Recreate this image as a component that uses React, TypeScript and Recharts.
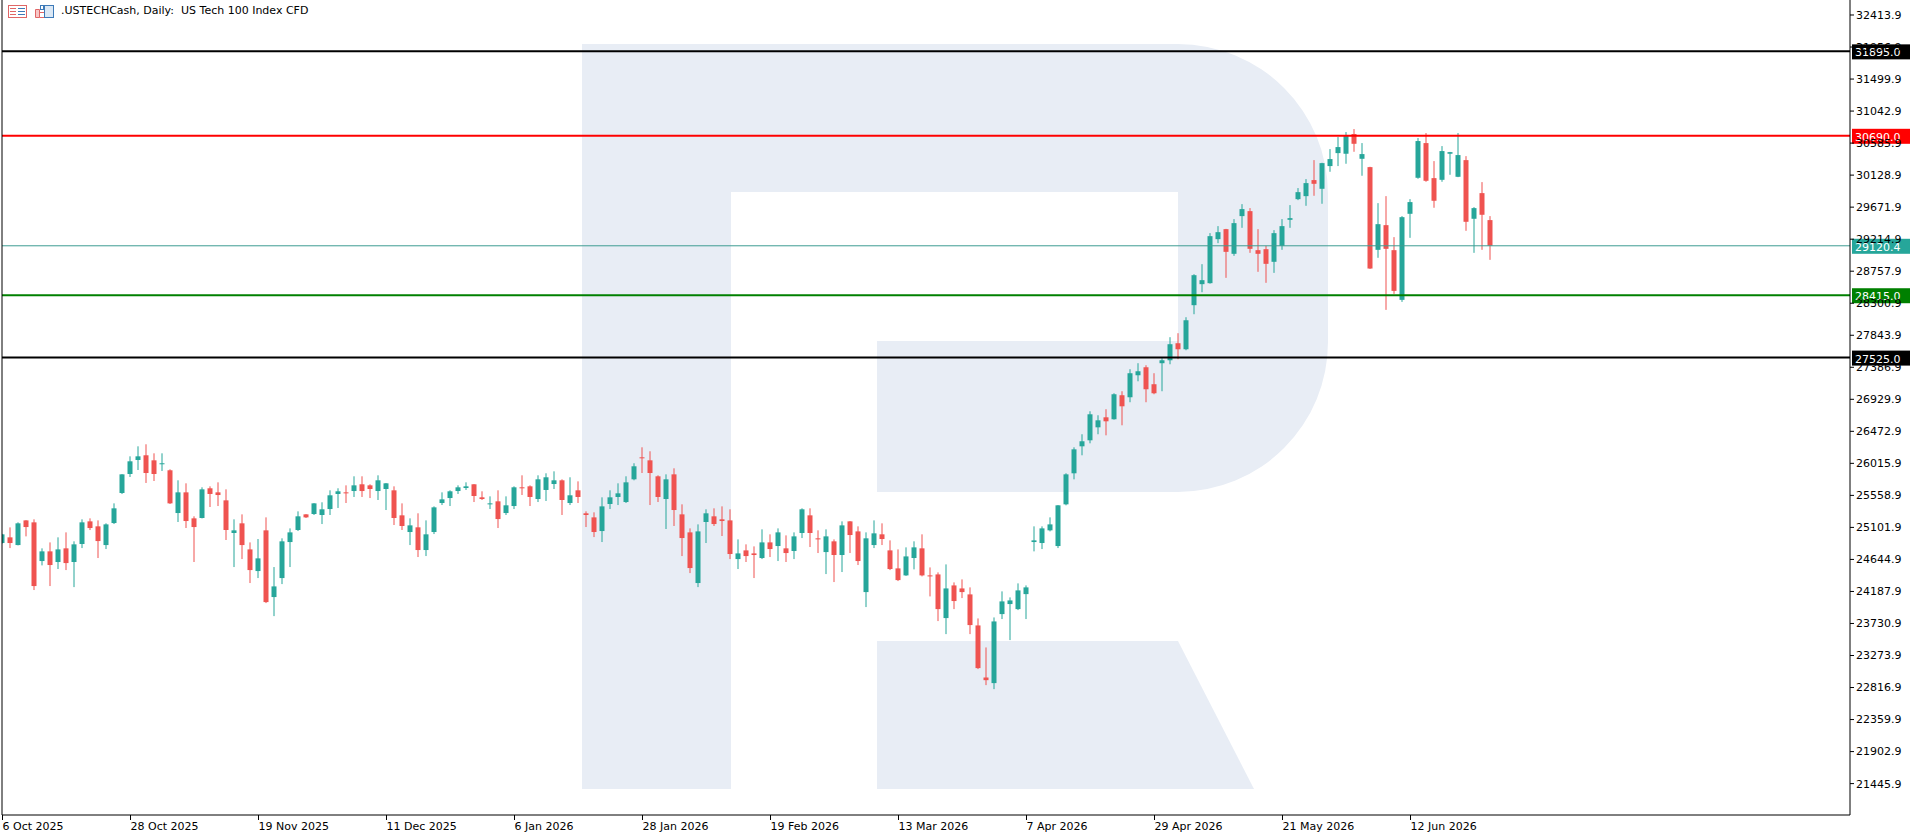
import { Bar, ComposedChart, ReferenceLine, XAxis, YAxis } from "recharts";

// Daily candles, 6 Oct 2025 .. late Jun 2026
const opens = [
  24879, 24960, 24850, 25202, 25174, 24622, 24760, 24608, 24803, 24608,
  24865, 25188, 25117, 24850, 25164, 25593, 25864, 26064, 26131, 26059,
  26007, 25917, 25307, 25602, 25231, 25236, 25660, 25602, 25488, 25022,
  25160, 24788, 24479, 25060, 24108, 24379, 24893, 25065, 25288, 25293,
  25279, 25364, 25579, 25602, 25621, 25717, 25702, 25621, 25650, 25631,
  25274, 25036, 25103, 24779, 25036, 25450, 25521, 25621, 25664, 25717,
  25531, 25440, 25474, 25307, 25407, 25674, 25688, 25507, 25636, 25721,
  25774, 25450, 25631, 25303, 25245, 25050, 25436, 25536, 25464, 25788,
  26102, 26059, 25831, 25507, 25859, 25288, 25031, 24308, 25179, 25260,
  25217, 25202, 24650, 24774, 24731, 24665, 24888, 24836, 24803, 24765,
  25022, 25274, 24946, 24750, 24903, 24708, 25188, 25045, 24179, 24850,
  25003, 24774, 24517, 24417, 24665, 24803, 24417, 24431, 23808, 24274,
  24231, 24146, 23703, 22960, 22880, 23865, 24008, 23936, 24150, 24893,
  24879, 25060, 24836, 25431, 25874, 26259, 26345, 26530, 26673, 26645,
  26988, 26959, 27273, 27387, 27145, 27445, 27487, 27730, 27644, 28273,
  28573, 28587, 29215, 29358, 29006, 29544, 29615, 29058, 29072, 28892,
  29120, 29491, 29786, 29829, 30058, 29934, 30258, 30443, 30434, 30715,
  30362, 30243, 29063, 29415, 29058, 28349, 29577, 30091, 30586, 30086,
  30062, 30434, 30105, 30343, 29506, 29872, 29487,
];
const highs = [
  25010, 25102, 25174, 25206, 25217, 24803, 24888, 24960, 25031, 24903,
  25217, 25231, 25202, 25160, 25445, 25862, 26116, 26259, 26288, 26159,
  26159, 25931, 25774, 25731, 25260, 25674, 25688, 25745, 25645, 25217,
  25288, 24888, 24936, 25245, 24536, 24946, 25088, 25331, 25292, 25448,
  25460, 25631, 25660, 25702, 25831, 25831, 25717, 25845, 25735, 25688,
  25445, 25231, 25303, 25202, 25402, 25602, 25631, 25702, 25745, 25720,
  25617, 25545, 25631, 25545, 25688, 25845, 25702, 25845, 25874, 25902,
  25788, 25817, 25759, 25331, 25317, 25531, 25631, 25731, 25831, 26017,
  26245, 26188, 25845, 25859, 25945, 25431, 25088, 25145, 25360, 25374,
  25402, 25360, 24931, 24860, 24831, 25074, 25003, 25088, 24988, 25031,
  25374, 25374, 25060, 25074, 24931, 25188, 25192, 25117, 25031, 25202,
  25160, 24917, 24788, 24817, 24903, 25003, 24531, 24460, 24574, 24317,
  24360, 24246, 23803, 23389, 23817, 24189, 24103, 24303, 24274, 25117,
  25117, 25245, 25420, 25874, 26245, 26431, 26759, 26702, 26788, 27016,
  27045, 27359, 27445, 27416, 27302, 27516, 27816, 27873, 28101, 28715,
  28858, 29301, 29401, 29362, 29501, 29715, 29658, 29358, 29120, 29344,
  29501, 29701, 29944, 30072, 30343, 30305, 30500, 30672, 30743, 30786,
  30586, 30248, 29729, 29829, 29244, 29544, 29786, 30658, 30729, 30329,
  30543, 30460, 30729, 30400, 29672, 30029, 29544,
];
const lows = [
  24870, 24807, 24845, 24974, 24208, 24560, 24265, 24508, 24493, 24250,
  24807, 25064, 24665, 24793, 25150, 25578, 25821, 25921, 25736, 25764,
  25907, 25436, 25179, 25093, 24608, 25230, 25393, 25407, 24922, 24536,
  24650, 24308, 24379, 24022, 23836, 24293, 24536, 25050, 25236, 25279,
  25150, 25279, 25379, 25450, 25536, 25536, 25521, 25493, 25350, 25136,
  25065, 24850, 24679, 24693, 25007, 25421, 25407, 25579, 25636, 25464,
  25493, 25364, 25093, 25279, 25364, 25564, 25407, 25464, 25479, 25650,
  25279, 25421, 25450, 25107, 24964, 24893, 25364, 25421, 25450, 25774,
  25878, 25421, 25464, 25079, 25122, 24693, 24450, 24250, 24879, 25122,
  24979, 24650, 24508, 24608, 24379, 24650, 24679, 24622, 24608, 24650,
  24950, 24822, 24736, 24436, 24322, 24465, 24736, 24565, 23965, 24807,
  24850, 24493, 24336, 24410, 24503, 24403, 24117, 23765, 23579, 23936,
  24093, 23579, 23080, 22851, 22794, 23794, 23494, 23922, 23794, 24760,
  24793, 25045, 24807, 25417, 25788, 26131, 26302, 26431, 26416, 26640,
  26559, 26888, 27187, 26888, 27002, 27045, 27430, 27502, 27630, 28144,
  28458, 28580, 29158, 28663, 28977, 29377, 29020, 28749, 28592, 28734,
  29063, 29377, 29772, 29691, 29834, 29720, 30177, 30258, 30291, 30462,
  30120, 28790, 28949, 28206, 28434, 28320, 29234, 30077, 30034, 29663,
  30034, 30134, 30100, 29334, 29020, 29063, 28920,
];
const closes = [
  25003, 24879, 25160, 25107, 24265, 24760, 24565, 24788, 24593, 24860,
  25174, 25093, 24907, 25145, 25374, 25859, 26045, 26116, 25878, 25864,
  26017, 25445, 25602, 25193, 25107, 25645, 25579, 25564, 25065, 25060,
  24850, 24493, 24660, 24036, 24260, 24903, 25031, 25260, 25245, 25445,
  25360, 25560, 25617, 25593, 25702, 25621, 25650, 25774, 25731, 25236,
  25122, 25131, 24779, 25003, 25388, 25502, 25617, 25674, 25688, 25550,
  25507, 25445, 25221, 25417, 25674, 25664, 25536, 25788, 25817, 25774,
  25493, 25560, 25536, 25279, 25036, 25402, 25531, 25588, 25745, 25974,
  26093, 25878, 25536, 25788, 25350, 24950, 24522, 25045, 25303, 25150,
  25193, 24722, 24731, 24693, 24708, 24888, 24793, 25031, 24736, 24974,
  25360, 25022, 24931, 24974, 24708, 25131, 24993, 24622, 24946, 25017,
  24936, 24508, 24350, 24688, 24817, 24417, 24403, 23936, 24231, 24051,
  24179, 23708, 23094, 22922, 23760, 24046, 24060, 24203, 24246, 24917,
  25088, 25145, 25417, 25859, 26216, 26331, 26716, 26630, 26616, 27002,
  26830, 27302, 27330, 27073, 27016, 27487, 27716, 27644, 28058, 28701,
  28630, 29258, 29315, 29034, 29444, 29644, 29077, 29006, 28863, 29301,
  29401, 29515, 29886, 30015, 30005, 30300, 30358, 30529, 30700, 30576,
  30429, 28796, 29429, 29077, 28477, 29529, 29744, 30615, 30048, 29763,
  30472, 30457, 30415, 29463, 29658, 29563, 29120.4,
];

const dateTicks = [0, 16, 32, 48, 64, 80, 96, 112, 128, 144, 160, 176];
const dateLabels = [
  "6 Oct 2025", "28 Oct 2025", "19 Nov 2025", "11 Dec 2025", "6 Jan 2026", "28 Jan 2026",
  "19 Feb 2026", "13 Mar 2026", "7 Apr 2026", "29 Apr 2026", "21 May 2026", "12 Jun 2026",
];
const priceTicks = [
  21445.9, 21902.9, 22359.9, 22816.9, 23273.9, 23730.9, 24187.9, 24644.9, 25101.9,
  25558.9, 26015.9, 26472.9, 26929.9, 27386.9, 27843.9, 28300.9, 28757.9, 29214.9,
  29671.9, 30128.9, 30585.9, 31042.9, 31499.9, 31956.9, 32413.9,
];

const levelPrices = [31895.0, 30690.0, 28415.0, 27525.0];
const levelColors = ["#000000", "#ff0000", "#008000", "#000000"];
const lastPrice = 29120.4;

const UP = "#26a69a";
const DOWN = "#ef5350";
const FONT = "'DejaVu Sans', sans-serif";
const PRICE_DOMAIN: [number, number] = [20997.9, 32627.9];

const candles = opens.map((open, i) => ({
  i,
  open,
  high: highs[i],
  low: lows[i],
  close: closes[i],
  range: [lows[i], highs[i]],
}));

function Candle(props: any) {
  const { x, y, width, height, payload } = props;
  if (!payload || x == null) return null;
  const top = height < 0 ? y + height : y;
  const span = Math.abs(height);
  const k = payload.high > payload.low ? span / (payload.high - payload.low) : 0;
  const py = (v: number) => top + (payload.high - v) * k;
  const color = payload.close >= payload.open ? UP : DOWN;
  const bodyTop = py(Math.max(payload.open, payload.close));
  const bodyH = Math.max(1, py(Math.min(payload.open, payload.close)) - bodyTop);
  const cx = x + width / 2;
  return (
    <g>
      <line x1={cx} x2={cx} y1={top} y2={top + span} stroke={color} strokeWidth={1} />
      <rect x={x} y={bodyTop} width={width} height={bodyH} fill={color} />
    </g>
  );
}

function DateTick({ x, y, payload }: any) {
  const idx = dateTicks.indexOf(payload.value);
  return (
    <text x={x} y={y} dy="0.71em" textAnchor="start" fontSize={11} fontFamily={FONT} fill="#000">
      {dateLabels[idx]}
    </text>
  );
}

function PriceTick({ x, y, payload }: any) {
  return (
    <text x={x} y={y} dy="0.355em" textAnchor="start" fontSize={11} fontFamily={FONT} fill="#000">
      {Number(payload.value).toFixed(1)}
    </text>
  );
}

function PriceBox({ viewBox, color, text }: any) {
  if (!viewBox) return null;
  const right = viewBox.x + viewBox.width;
  return (
    <g>
      <rect x={right + 2} y={viewBox.y - 7} width={60} height={15} fill={color} />
      <text x={right + 5} y={viewBox.y + 1} dy="0.355em" fontSize={11} fontFamily={FONT} fill="#fff">
        {text}
      </text>
    </g>
  );
}

// broker logo watermark behind the plot
function Watermark() {
  return (
    <svg width={1910} height={837} style={{ position: "absolute", left: 0, top: 0 }}>
      <path
        d="M582 44 H1178 A150 150 0 0 1 1328 194 V342 A150 150 0 0 1 1178 492 H877 V341 H1178 V192 H731 V789 H582 Z"
        fill="#e8edf5"
      />
      <path d="M877 641 H1178 L1254 789 H877 Z" fill="#e8edf5" />
    </svg>
  );
}

function Header() {
  return (
    <div style={{ position: "absolute", left: 0, top: 0, height: 22, width: 400 }}>
      <svg width={60} height={22} style={{ position: "absolute", left: 0, top: 0 }}>
        <rect x={8.5} y={5.5} width={18} height={12} fill="#fff" stroke="#e06666" />
        <line x1={10} x2={16} y1={8.5} y2={8.5} stroke="#e06666" />
        <line x1={18} x2={25} y1={8.5} y2={8.5} stroke="#3d7ab8" />
        <line x1={10} x2={16} y1={11.5} y2={11.5} stroke="#e06666" />
        <line x1={18} x2={25} y1={11.5} y2={11.5} stroke="#3d7ab8" />
        <line x1={10} x2={16} y1={14.5} y2={14.5} stroke="#e06666" />
        <line x1={18} x2={25} y1={14.5} y2={14.5} stroke="#3d7ab8" />
        <path d="M35.5 9.5 H39.5 V17.5 H35.5 Z" fill="#f7c6c6" stroke="#e06666" />
        <path d="M39.5 12.5 H44.5 V17.5 H39.5" fill="none" stroke="#e06666" />
        <rect x={44.5} y={5.5} width={9} height={12} fill="#dbe8f5" stroke="#3d7ab8" />
        <rect x={40.5} y={5.5} width={3} height={4} fill="#fff" stroke="#3d7ab8" />
      </svg>
      <span
        style={{
          position: "absolute",
          left: 61,
          top: 4,
          fontFamily: FONT,
          fontSize: 11,
          lineHeight: "13px",
          whiteSpace: "pre",
          color: "#000",
        }}
      >
        {".USTECHCash, Daily:  US Tech 100 Index CFD"}
      </span>
    </div>
  );
}

export default function App() {
  return (
    <div style={{ position: "relative", width: 1910, height: 837, background: "#fff" }}>
      <style>{`body{margin:0}`}</style>
      <Watermark />
      <div style={{ position: "absolute", left: 0, top: 0 }}>
        <ComposedChart
          width={1910}
          height={837}
          data={candles}
          margin={{ top: 0, right: 0, bottom: 0, left: 0 }}
        >
          <XAxis
            dataKey="i"
            type="number"
            domain={[-0.0625, 230.9375]}
            allowDataOverflow
            ticks={dateTicks}
            interval={0}
            height={22}
            tickSize={5}
            tickMargin={2}
            tick={<DateTick />}
            axisLine={{ stroke: "#000" }}
            tickLine={{ stroke: "#000" }}
          />
          <YAxis
            yAxisId="l"
            orientation="left"
            width={2}
            domain={PRICE_DOMAIN}
            allowDataOverflow
            tick={false}
            tickLine={false}
            axisLine={{ stroke: "#000" }}
          />
          <YAxis
            yAxisId="p"
            orientation="right"
            width={60}
            type="number"
            domain={PRICE_DOMAIN}
            allowDataOverflow
            ticks={priceTicks}
            interval={0}
            tickSize={4}
            tickMargin={2}
            tick={<PriceTick />}
            axisLine={{ stroke: "#000" }}
            tickLine={{ stroke: "#000" }}
          />
          <Bar
            yAxisId="p"
            dataKey="range"
            barSize={5}
            shape={<Candle />}
            isAnimationActive={false}
          />
          <ReferenceLine
            yAxisId="p"
            y={lastPrice}
            stroke="#3e9c93"
            strokeWidth={1}
            label={<PriceBox color={UP} text={lastPrice.toFixed(1)} />}
          />
          {levelPrices.map((p, k) => (
            <ReferenceLine
              key={p}
              yAxisId="p"
              y={p}
              stroke={levelColors[k]}
              strokeWidth={2}
              label={<PriceBox color={levelColors[k]} text={p.toFixed(1)} />}
            />
          ))}
        </ComposedChart>
      </div>
      <Header />
    </div>
  );
}
